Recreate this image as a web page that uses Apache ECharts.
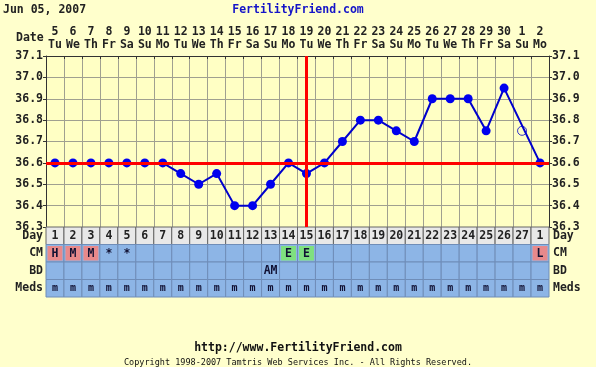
<!DOCTYPE html>
<html><head><meta charset="utf-8">
<script src="https://cdn.jsdelivr.net/npm/echarts@6/dist/echarts.min.js"></script>
<style>html,body{margin:0;padding:0;background:#FFFFCC}#c{width:596px;height:367px}</style>
</head><body><div id="c"></div><script>
const dates = ['5','6','7','8','9','10','11','12','13','14','15','16','17','18','19','20','21','22','23','24','25','26','27','28','29','30','1','2'];
const weekdays = ['Tu','We','Th','Fr','Sa','Su','Mo','Tu','We','Th','Fr','Sa','Su','Mo','Tu','We','Th','Fr','Sa','Su','Mo','Tu','We','Th','Fr','Sa','Su','Mo'];
const cycleDays = ['1','2','3','4','5','6','7','8','9','10','11','12','13','14','15','16','17','18','19','20','21','22','23','24','25','26','27','1'];
const temps = [36.6,36.6,36.6,36.6,36.6,36.6,36.6,36.55,36.5,36.55,36.4,36.4,36.5,36.6,36.55,36.6,36.7,36.8,36.8,36.75,36.7,36.9,36.9,36.9,36.75,36.95,null,36.6];
const discardedTemps = [null,null,null,null,null,null,null,null,null,null,null,null,null,null,null,null,null,null,null,null,null,null,null,null,null,null,36.75,null];
const cmCodes = ['H','M','M','*','*','','','','','','','','','E','E','','','','','','','','','','','','','L'];
const bdCodes = ['','','','','','','','','','','','','AM','','','','','','','','','','','','','','',''];
const medsCodes = ['m','m','m','m','m','m','m','m','m','m','m','m','m','m','m','m','m','m','m','m','m','m','m','m','m','m','m','m'];
const rowNames = ['Day','CM','BD','Meds'];
const coverline = 36.6;
const ovulationDate = '19';
const tempMin = 36.3, tempMax = 37.1, tempStep = 0.1;

const FONT = 'DejaVu Sans Mono';
const rows = [cycleDays, cmCodes, bdCodes, medsCodes];
const cells = [];
rows.forEach((arr, r) => arr.forEach((t, i) => cells.push({value:[i, r], text:t, row:r})));
const hiColor = {H:'#E8898B', M:'#E8898B', L:'#E8898B', E:'#7FE07F'};

const chart = echarts.init(document.getElementById('c'), null, {renderer:'canvas'});
chart.setOption({
  backgroundColor:'#FFFFCC',
  animation:false,
  title:[
    {text:'Jun 05, 2007', left:3, top:4, padding:0, textStyle:{fontFamily:FONT, fontSize:11.5, fontWeight:'bold', color:'#222'}},
    {text:'FertilityFriend.com', left:'center', top:4, padding:0, textStyle:{fontFamily:FONT, fontSize:11.5, fontWeight:'bold', color:'#1414C8'}},
    {text:'http://www.FertilityFriend.com', left:'center', top:342, padding:0, textStyle:{fontFamily:FONT, fontSize:11.5, fontWeight:'bold', color:'#111'}},
    {text:'Copyright 1998-2007 Tamtris Web Services Inc. - All Rights Reserved.', left:'center', top:358, padding:0, textStyle:{fontFamily:FONT, fontSize:8.5, fontWeight:'normal', color:'#111'}}
  ],
  graphic:[{type:'text', left:16, top:32, style:{text:'Date', font:'bold 11.5px "DejaVu Sans Mono"', fill:'#222'}}],
  grid:[
    {left:46, right:47, top:56, height:171, show:true, backgroundColor:'#FFFFC4', borderWidth:0},
    {left:46, right:47, top:227, height:70, show:false}
  ],
  xAxis:[
    {type:'category', gridIndex:0, position:'top', data:dates, boundaryGap:true,
     axisLine:{show:true, lineStyle:{color:'#333', width:1}},
     axisTick:{show:true, length:3, inside:true, lineStyle:{color:'#333'}},
     splitLine:{show:true, lineStyle:{color:'#A0A090', width:1}},
     axisLabel:{interval:0, margin:4, formatter:(v,i)=>'{a|'+v+'}\n{a|'+weekdays[i]+'}',
       rich:{a:{fontFamily:FONT, fontSize:11.5, fontWeight:'bold', color:'#222', lineHeight:13}}}},
    {type:'category', gridIndex:1, data:cycleDays, show:false}
  ],
  yAxis:[
    {type:'value', gridIndex:0, min:tempMin, max:tempMax, interval:tempStep, position:'left',
     axisLine:{show:true, lineStyle:{color:'#333'}}, axisTick:{show:true, length:3, lineStyle:{color:'#333'}},
     splitLine:{show:true, lineStyle:{color:'#A0A090'}},
     axisLabel:{margin:3, formatter:v=>v.toFixed(1), fontFamily:FONT, fontSize:11.5, fontWeight:'bold', color:'#222'}},
    {type:'value', gridIndex:0, min:tempMin, max:tempMax, interval:tempStep, position:'right',
     axisLine:{show:true, lineStyle:{color:'#333'}}, axisTick:{show:true, length:3, lineStyle:{color:'#333'}},
     splitLine:{show:false},
     axisLabel:{margin:3, formatter:v=>v.toFixed(1), fontFamily:FONT, fontSize:11.5, fontWeight:'bold', color:'#222'}},
    {type:'category', gridIndex:1, data:rowNames, inverse:true, position:'left',
     axisLine:{show:false}, axisTick:{show:false},
     axisLabel:{margin:3, fontFamily:FONT, fontSize:11.5, fontWeight:'bold', color:'#222'}},
    {type:'category', gridIndex:1, data:rowNames, inverse:true, position:'right',
     axisLine:{show:false}, axisTick:{show:false},
     axisLabel:{margin:4, fontFamily:FONT, fontSize:11.5, fontWeight:'bold', color:'#222'}}
  ],
  series:[
    {type:'line', xAxisIndex:0, yAxisIndex:0, data:temps, connectNulls:true, z:3,
     symbol:'circle', symbolSize:9, itemStyle:{color:'#0000EE'}, lineStyle:{color:'#0000CC', width:2}},
    {type:'scatter', xAxisIndex:0, yAxisIndex:0, data:discardedTemps, z:3,
     symbol:'circle', symbolSize:9, itemStyle:{color:'rgba(0,0,0,0)', borderColor:'#0000CC', borderWidth:1}},
    {type:'line', xAxisIndex:0, yAxisIndex:0, data:[], z:5,
     markLine:{silent:true, symbol:'none', label:{show:false},
       lineStyle:{color:'#FF0000', width:3, type:'solid'},
       data:[{yAxis:coverline},{xAxis:ovulationDate}]}},
    {type:'custom', xAxisIndex:1, yAxisIndex:2, data:cells, encode:{x:0, y:1},
     renderItem:function(params, api){
       const c = cells[params.dataIndex];
       const p = api.coord([api.value(0), api.value(1)]);
       const s = api.size([1,1]);
       const w = s[0], h = s[1];
       const x0 = p[0]-w/2, y0 = p[1]-h/2;
       const children = [{type:'rect', shape:{x:x0, y:y0, width:w, height:h},
         style:{fill: c.row===0 ? '#E8E8E8' : '#8DB5E6', stroke: c.row===0 ? '#666' : '#6F8DB8', lineWidth:1}}];
       if (c.row===1 && hiColor[c.text]) {
         children.push({type:'rect', shape:{x:x0+1.5, y:y0+1.5, width:w-3, height:h-3}, style:{fill:hiColor[c.text]}});
       }
       if (c.text) {
         children.push({type:'text', style:{x:p[0], y:p[1]+0.5, text:c.text, align:'center', verticalAlign:'middle',
           font: (c.row===3 ? 'bold 10px' : 'bold 11.5px') + ' "DejaVu Sans Mono"', fill: c.row===0 ? '#222' : '#111133'}});
       }
       return {type:'group', children:children};
     }}
  ]
});
</script></body></html>
